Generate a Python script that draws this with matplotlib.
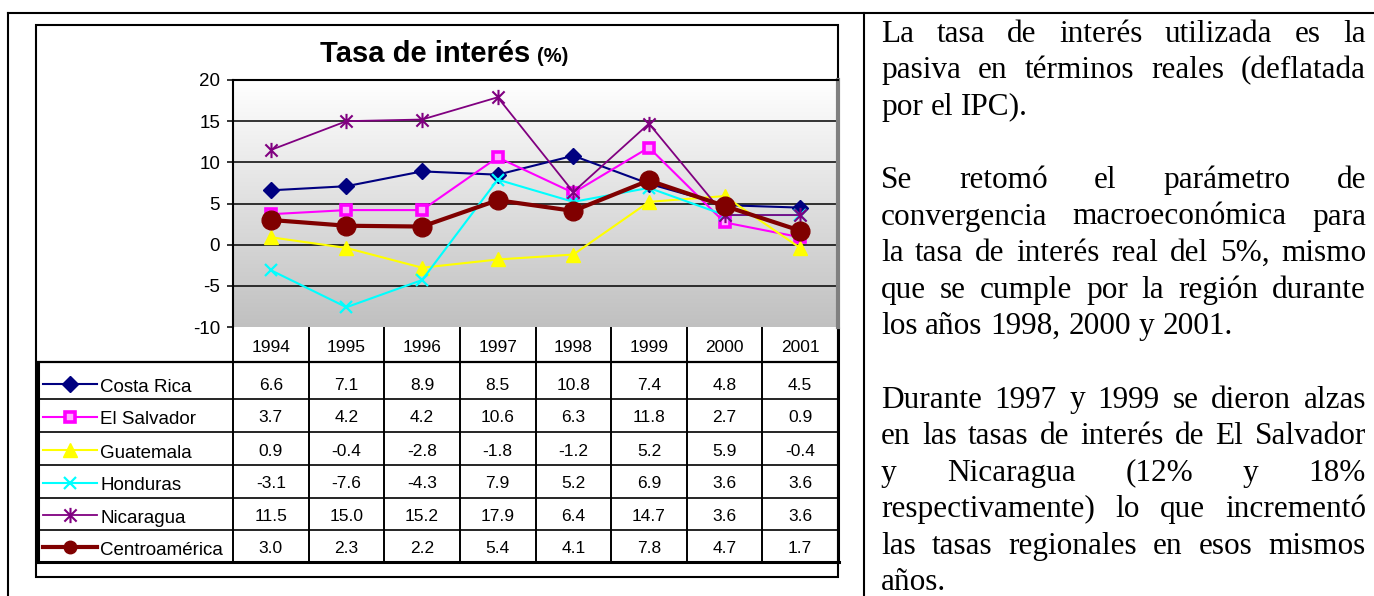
import numpy as np
import matplotlib
matplotlib.use('Agg')
import matplotlib.pyplot as plt
import matplotlib.transforms as mtransforms
from matplotlib.path import Path
from matplotlib.patches import Rectangle
from matplotlib.colors import LinearSegmentedColormap

plt.rcParams['font.family'] = ['Liberation Sans', 'DejaVu Sans']
plt.rcParams['axes.unicode_minus'] = False

# datos de la tabla
years = ['1994', '1995', '1996', '1997', '1998', '1999', '2000', '2001']
countries = ['Costa Rica', 'El Salvador', 'Guatemala', 'Honduras', 'Nicaragua', 'Centroamérica']
costa_rica = [6.6, 7.1, 8.9, 8.5, 10.8, 7.4, 4.8, 4.5]
el_salvador = [3.7, 4.2, 4.2, 10.6, 6.3, 11.8, 2.7, 0.9]
guatemala = [0.9, -0.4, -2.8, -1.8, -1.2, 5.2, 5.9, -0.4]
honduras = [-3.1, -7.6, -4.3, 7.9, 5.2, 6.9, 3.6, 3.6]
nicaragua = [11.5, 15.0, 15.2, 17.9, 6.4, 14.7, 3.6, 3.6]
centroamerica = [3.0, 2.3, 2.2, 5.4, 4.1, 7.8, 4.7, 1.7]
series = [costa_rica, el_salvador, guatemala, honduras, nicaragua, centroamerica]

# texto de la derecha (lineas como en el original)
paragraphs = [
    ['La tasa de interés utilizada es la',
     'pasiva en términos reales (deflatada',
     'por el IPC).'],
    ['Se retomó el parámetro de',
     'convergencia macroeconómica para',
     'la tasa de interés real del 5%, mismo',
     'que se cumple por la región durante',
     'los años 1998, 2000 y 2001.'],
    ['Durante 1997 y 1999 se dieron alzas',
     'en las tasas de interés de El Salvador',
     'y Nicaragua (12% y 18%',
     'respectivamente) lo que incrementó',
     'las tasas regionales en esos mismos',
     'años.'],
]

# estilos de cada serie
star = Path([(0, -1), (0, 1), (-0.8, -0.8), (0.8, 0.8), (-0.8, 0.8), (0.8, -0.8)],
            [Path.MOVETO, Path.LINETO, Path.MOVETO, Path.LINETO, Path.MOVETO, Path.LINETO])
styles = [
    dict(color='#000080', lw=1.5, marker='D', ms=8, mfc='#000080', mec='#000080'),
    dict(color='#FF00FF', lw=1.5, marker='s', ms=7.5, mfc='#FFB0FF', mec='#FF00FF', mew=2.6),
    dict(color='#FFFF00', lw=1.5, marker='^', ms=10, mfc='#FFFF00', mec='#FFFF00'),
    dict(color='#00FFFF', lw=1.5, marker='x', ms=9, mec='#00FFFF', mew=1.6),
    dict(color='#800080', lw=1.3, marker=star, ms=11, mfc='#800080', mec='#800080', mew=1.5),
    dict(color='#800000', lw=3.0, marker='o', ms=13.5, mfc='#800000', mec='#800000'),
]

W, H = 1374, 596
fig = plt.figure(figsize=(W / 100, H / 100), dpi=100)

# capa de fondo en pixeles
ov = fig.add_axes([0, 0, 1, 1])
ov.set_xlim(0, W)
ov.set_ylim(H, 0)
ov.axis('off')

# bordes de la celda del documento
ov.plot([8, W], [13, 13], color='black', lw=1.5)
ov.plot([8, 8], [13, H], color='black', lw=1.5)
ov.plot([864, 864], [13, H], color='black', lw=1.5)

# marco del grafico
ov.add_patch(Rectangle((36, 25), 802, 552, fill=False, ec='black', lw=1.5))

# area de trazado
px0, py0, px1, py1 = 233, 80, 838, 327
ax = fig.add_axes([px0 / W, 1 - py1 / H, (px1 - px0) / W, (py1 - py0) / H])
ax.set_zorder(2)
x = np.arange(len(years))
ax.set_xlim(-0.5, len(years) - 0.5)
ax.set_ylim(-10, 20)

cmap = LinearSegmentedColormap.from_list('fondo', ['#FFFFFF', '#C0C0C0'])
grad = np.linspace(0, 1, 256).reshape(-1, 1)
ax.imshow(grad, extent=[-0.5, len(years) - 0.5, -10, 20], origin='upper',
          aspect='auto', cmap=cmap, zorder=0)

ax.set_yticks(np.arange(-10, 21, 5))
ax.set_xticks([])
ax.yaxis.grid(True, color='black', lw=1.1, zorder=1)
gl = ax.get_ygridlines()
gl[0].set_visible(False)
gl[-1].set_visible(False)
ax.tick_params(axis='y', labelsize=13.5, length=4.3, width=1.1, pad=5, direction='out')

ax.spines['top'].set_linewidth(1.5)
ax.spines['left'].set_linewidth(1.5)
ax.spines['bottom'].set_visible(False)
ax.spines['right'].set_color('#808080')
ax.spines['right'].set_linewidth(3)

for vals, st in zip(series, styles):
    ax.plot(x, vals, zorder=3, clip_on=False, **st)

# titulo
r = fig.canvas.get_renderer()
t1 = ov.text(320, 62, 'Tasa de interés', fontsize=21, fontweight='bold', va='baseline')
w1 = t1.get_window_extent(renderer=r).width
ov.text(320 + w1 + 7, 62, '(%)', fontsize=14.5, fontweight='bold', va='baseline')

# tabla de datos
tr = mtransforms.blended_transform_factory(ax.transData, ov.transData)
row_lines = [362, 398.5, 431.5, 464.5, 497.5, 530, 562]
for i in range(len(years) + 1):
    ov.plot([i - 0.5, i - 0.5], [py1, row_lines[-1]], color='black',
            lw=2.2 if i == len(years) else 1.4, transform=tr, solid_capstyle='butt')
ov.plot([37, px1], [row_lines[0], row_lines[0]], color='black', lw=1.6)
for yl in row_lines[1:-1]:
    ov.plot([39, px1], [yl, yl], color='black', lw=1.2)
ov.plot([37, px1 + 1], [row_lines[-1], row_lines[-1]], color='black', lw=2.2)
ov.plot([38, 38], [row_lines[0], row_lines[-1]], color='black', lw=2.2)

for i, yr in enumerate(years):
    ov.text(i, row_lines[0] - 10, yr, fontsize=12.5, ha='center', va='baseline', transform=tr)

for k, (name, vals, st) in enumerate(zip(countries, series, styles)):
    yb = row_lines[k + 1]
    yk = yb - 15
    ov.plot([43, 97], [yk, yk], color=st['color'], lw=st['lw'])
    key = {kk: v for kk, v in st.items() if kk not in ('color', 'lw')}
    if name == 'Centroamérica':
        key['ms'] = 9
    ov.plot([70], [yk], **key)
    ov.text(100, yb - 7, name, fontsize=13.5, va='baseline')
    for i, v in enumerate(vals):
        ov.text(i, yb - 9, f'{v:.1f}', fontsize=12.5, ha='center', va='baseline', transform=tr)

# texto justificado a la derecha
serif = 'Liberation Serif'
fs_body = 22.5
x_left, x_right = 881, 1366
y_first, dy = 41.5, 36.6


def word_width(w):
    t = ov.text(0, 0, w, fontsize=fs_body, family=serif)
    wd = t.get_window_extent(renderer=r).width
    t.remove()
    return wd


space_w = word_width('a a') - word_width('aa')
line_no = 0
for para in paragraphs:
    for j, line in enumerate(para):
        words = line.split()
        widths = [word_width(w) for w in words]
        if j == len(para) - 1 or len(words) == 1:
            gap = space_w
        else:
            gap = (x_right - x_left - sum(widths)) / (len(words) - 1)
        xx = x_left
        yy = y_first + line_no * dy
        for w, wd in zip(words, widths):
            ov.text(xx, yy, w, fontsize=fs_body, family=serif, va='baseline')
            xx += wd + gap
        line_no += 1
    line_no += 1

fig.savefig('out.png', dpi=100)
